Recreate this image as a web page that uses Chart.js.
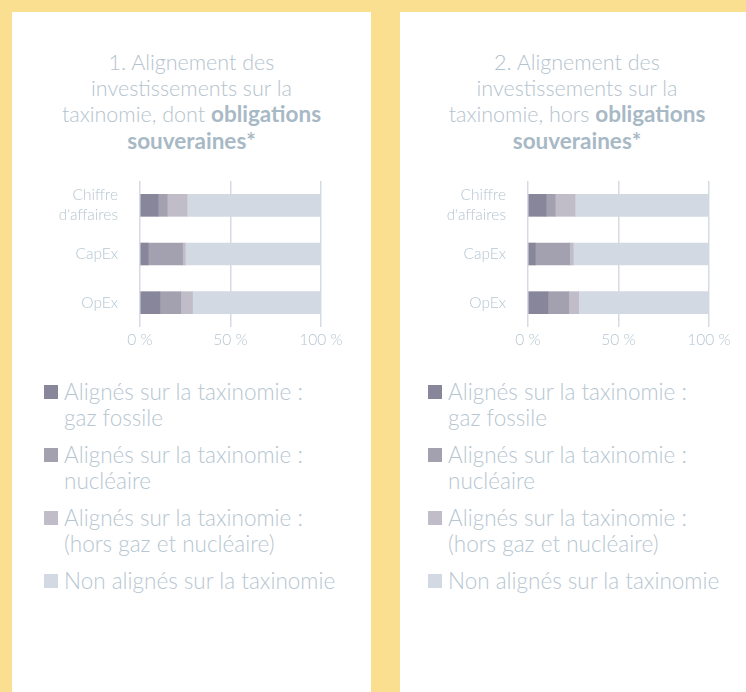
<!DOCTYPE html>
<html>
<head>
<meta charset="utf-8">
<script src="https://cdn.jsdelivr.net/npm/chart.js@4"></script>
<style>
  html, body { margin: 0; padding: 0; }
  body {
    width: 746px; height: 692px; overflow: hidden; position: relative;
    background: #f9df8f; font-family: 'Lato', sans-serif; font-weight: 300;
  }
  .panel { position: absolute; top: 12px; height: 680px; background: #fff; }
  .title {
    position: absolute; top: 38px; left: 0; right: 0; text-align: center;
    font-size: 21.5px; line-height: 25.5px; color: #b4c3ce;
  }
  .title b { font-weight: 700; font-size: 22.5px; color: #a8b9c6; }
  .chartbox { position: absolute; top: 163px; left: 0; width: 359px; height: 180px; }
  .legend { position: absolute; top: 367px; }
  .item { display: flex; align-items: flex-start; margin-bottom: 11px; }
  .sq { width: 14px; height: 14px; margin-top: 6px; margin-right: 6px; flex: none; }
  .lbl { font-size: 22.5px; line-height: 26px; color: #b6c6d1; white-space: nowrap; }
</style>
</head>
<body>
<div class="panel" id="p1" style="left:12px;width:359px;">
  <div class="title">1. Alignement des<br>investissements sur la<br>taxinomie, dont <b>obligations<br>souveraines*</b></div>
  <div class="chartbox"><canvas id="c1"></canvas></div>
  <div class="legend" id="l1" style="left:32px;"></div>
</div>
<div class="panel" id="p2" style="left:400px;width:354px;">
  <div class="title">2. Alignement des<br>investissements sur la<br>taxinomie, hors <b>obligations<br>souveraines*</b></div>
  <div class="chartbox"><canvas id="c2"></canvas></div>
  <div class="legend" id="l2" style="left:28px;"></div>
</div>
<script>
const categories = [['Chiffre', "d'affaires"], 'CapEx', 'OpEx'];
const seriesNames = [
  ['Alignés sur la taxinomie :', 'gaz fossile'],
  ['Alignés sur la taxinomie :', 'nucléaire'],
  ['Alignés sur la taxinomie :', '(hors gaz et nucléaire)'],
  ['Non alignés sur la taxinomie']
];
const seriesColors = ['#88869a', '#a3a1b0', '#c0bdc9', '#d3d9e2'];
const xTicks = [0, 50, 100];

// 1. dont obligations souveraines
const gasA = [10, 4.5, 11];
const nuclearA = [5, 19, 11.5];
const otherA = [11, 1.5, 6.5];
const nonAlignedA = [74, 75, 71];

// 2. hors obligations souveraines
const gasB = [10, 4, 11];
const nuclearB = [5, 19, 11.5];
const otherB = [11, 2, 5.5];
const nonAlignedB = [74, 75, 72];

const tickFont = { family: 'Lato', weight: 300, size: 15.5, lineHeight: 1.3 };
const textColor = '#b6c6d1';

function createChart(canvas, series) {
  return new Chart(canvas, {
    type: 'bar',
    data: {
      labels: categories,
      datasets: series.map(function (values, i) {
        return {
          label: seriesNames[i].join(' '),
          data: values,
          backgroundColor: seriesColors[i],
          borderWidth: 0,
          barThickness: 22
        };
      })
    },
    options: {
      indexAxis: 'y',
      responsive: true,
      maintainAspectRatio: false,
      animation: false,
      layout: { padding: { top: 6, right: 50, left: 0, bottom: 0 } },
      scales: {
        x: {
          stacked: true,
          min: 0,
          max: 100,
          afterBuildTicks: function (axis) {
            axis.ticks = xTicks.map(function (v) { return { value: v }; });
          },
          afterFit: function (axis) { axis.height = 28; },
          ticks: {
            color: textColor,
            font: tickFont,
            padding: 3,
            callback: function (v) { return v + ' %'; }
          },
          grid: { color: '#d6dbe3', lineWidth: 1.5, drawTicks: false },
          border: { display: false }
        },
        y: {
          stacked: true,
          afterFit: function (axis) {
            axis.width = 128;
            axis.paddingTop = 0;
            axis.paddingBottom = 0;
          },
          ticks: { color: textColor, font: tickFont, padding: 22 },
          grid: { display: false, drawTicks: false },
          border: { display: false }
        }
      },
      plugins: {
        legend: { display: false },
        tooltip: { enabled: false }
      }
    }
  });
}

function buildLegend(el) {
  seriesNames.forEach(function (lines, i) {
    var item = document.createElement('div');
    item.className = 'item';
    var sq = document.createElement('div');
    sq.className = 'sq';
    sq.style.background = seriesColors[i];
    var lbl = document.createElement('div');
    lbl.className = 'lbl';
    lbl.innerHTML = lines.join('<br>');
    item.appendChild(sq);
    item.appendChild(lbl);
    el.appendChild(item);
  });
}

createChart(document.getElementById('c1'), [gasA, nuclearA, otherA, nonAlignedA]);
createChart(document.getElementById('c2'), [gasB, nuclearB, otherB, nonAlignedB]);
buildLegend(document.getElementById('l1'));
buildLegend(document.getElementById('l2'));
</script>
</body>
</html>
